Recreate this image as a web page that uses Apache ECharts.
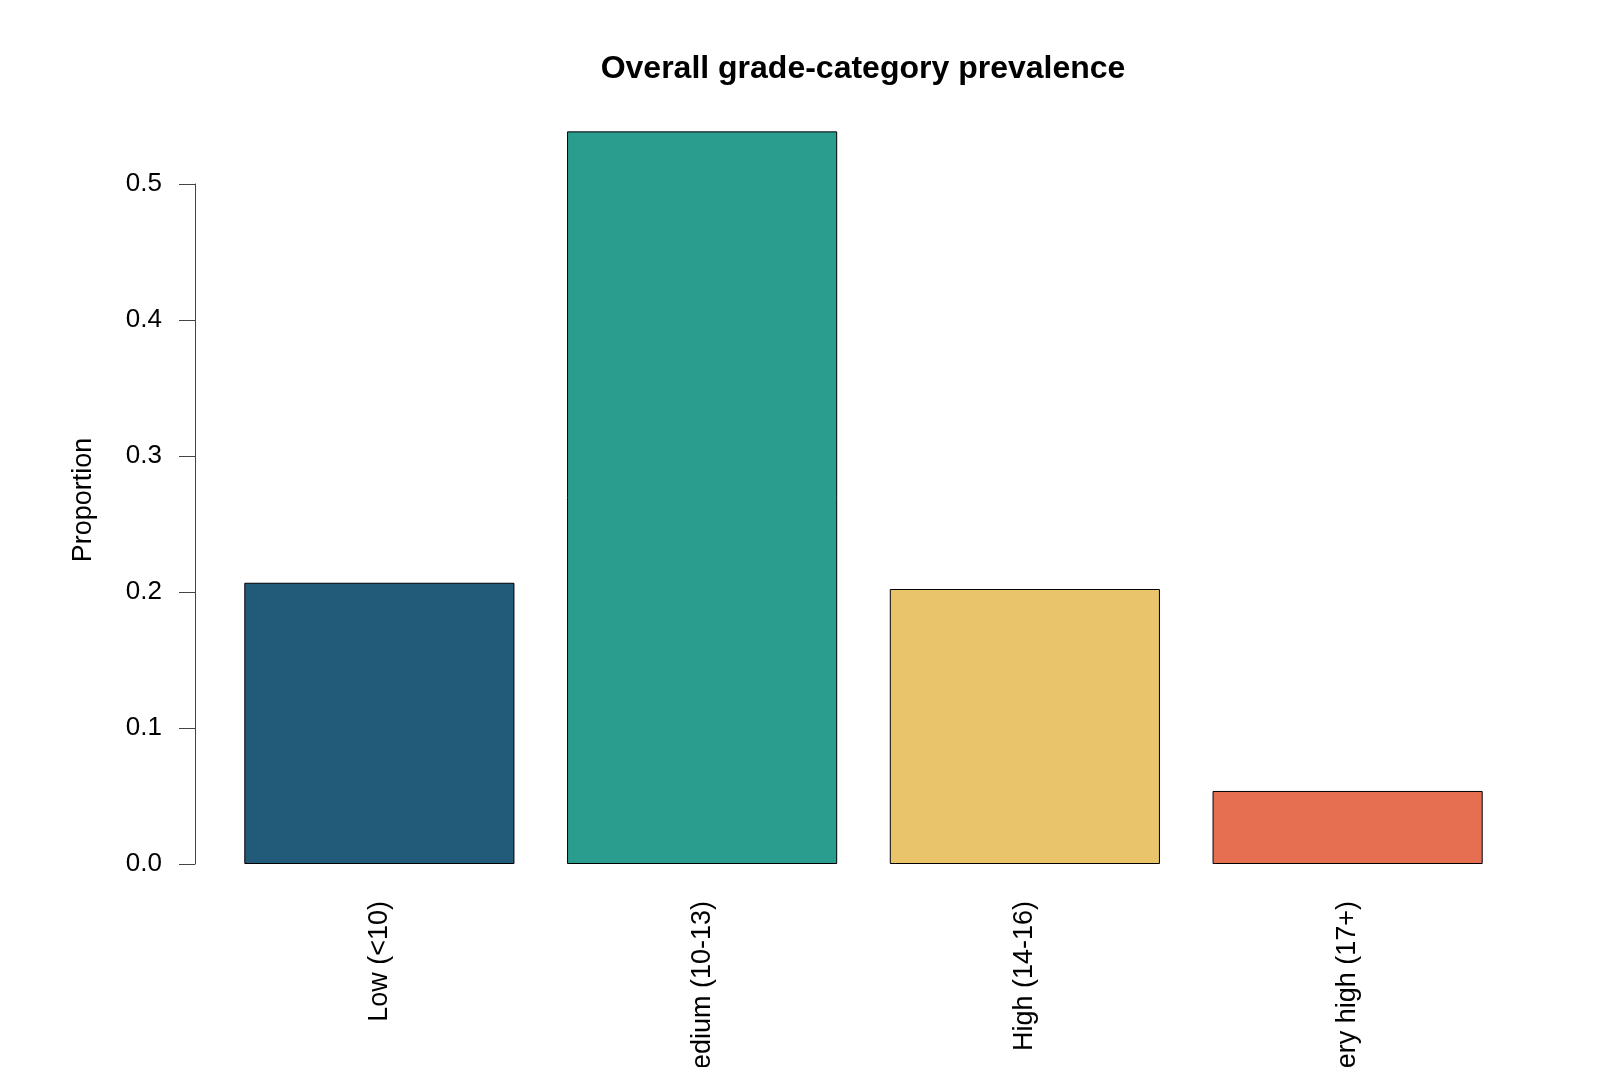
<!DOCTYPE html>
<html>
<head>
<meta charset="utf-8">
<script src="https://cdn.jsdelivr.net/npm/echarts@6/dist/echarts.min.js"></script>
<style>
	html, body { margin: 0; padding: 0; background: #fff; }
	#gradeChart { width: 1600px; height: 1067px; }
</style>
</head>
<body>
<div id="gradeChart"></div>
<script>
var categories = ['Low (<10)', 'Medium (10-13)', 'High (14-16)', 'Very high (17+)']
var proportions = [0.2068, 0.5387, 0.2022, 0.0537]
var barColors = ['#225A7A', '#2A9D8F', '#E9C46A', '#E76F51']
var yTicks = [0.0, 0.1, 0.2, 0.3, 0.4, 0.5]

function drawGradeChart() {
	var chartDom = document.getElementById('gradeChart')
	var myChart = echarts.init(chartDom)
	var option

	var barData = []
	for (var i = 0; i < proportions.length; i++) {
		barData.push({
			value: proportions[i],
			itemStyle: { color: barColors[i] },
		})
	}

	option = {
		backgroundColor: '#ffffff',
		animation: false,
		textStyle: { fontFamily: 'Liberation Sans, Arial, sans-serif' },
		title: {
			text: 'Overall grade-category prevalence',
			left: 858,
			top: 48,
			textAlign: 'center',
			textStyle: {
				fontFamily: 'Liberation Sans, Arial, sans-serif',
				fontWeight: 'bold',
				fontSize: 32,
				color: '#000',
			},
		},
		grid: {
			left: 218,
			right: 91,
			top: 184,
			bottom: 203,
			containLabel: false,
			outerBoundsMode: 'none',
		},
		xAxis: {
			type: 'category',
			data: categories,
			axisLine: { show: false },
			axisTick: { show: false },
			axisLabel: {
				rotate: 90,
				margin: 37,
				interval: 0,
				fontSize: 27,
				color: '#000',
				fontFamily: 'Liberation Sans, Arial, sans-serif',
			},
		},
		yAxis: {
			type: 'value',
			min: yTicks[0],
			max: yTicks[yTicks.length - 1],
			interval: 0.1,
			offset: 23,
			splitLine: { show: false },
			axisLine: { show: true, lineStyle: { color: '#444', width: 1 } },
			axisTick: { show: true, length: 16, lineStyle: { color: '#444', width: 1 } },
			axisLabel: {
				margin: 33,
				fontSize: 26,
				color: '#000',
				fontFamily: 'Liberation Sans, Arial, sans-serif',
				formatter: function (v) {
					return v.toFixed(1)
				},
			},
		},
		graphic: [
			{
				type: 'text',
				x: 84,
				y: 500,
				rotation: Math.PI / 2,
				style: {
					text: 'Proportion',
					fontSize: 27,
					fontFamily: 'Liberation Sans, Arial, sans-serif',
					fill: '#000',
					align: 'center',
					verticalAlign: 'middle',
				},
			},
		],
		series: [
			{
				type: 'bar',
				data: barData,
				barCategoryGap: '16.3%',
				clip: false,
				itemStyle: {
					borderColor: '#000',
					borderWidth: 1,
				},
			},
		],
	}

	option && myChart.setOption(option)
}

drawGradeChart()
</script>
</body>
</html>
